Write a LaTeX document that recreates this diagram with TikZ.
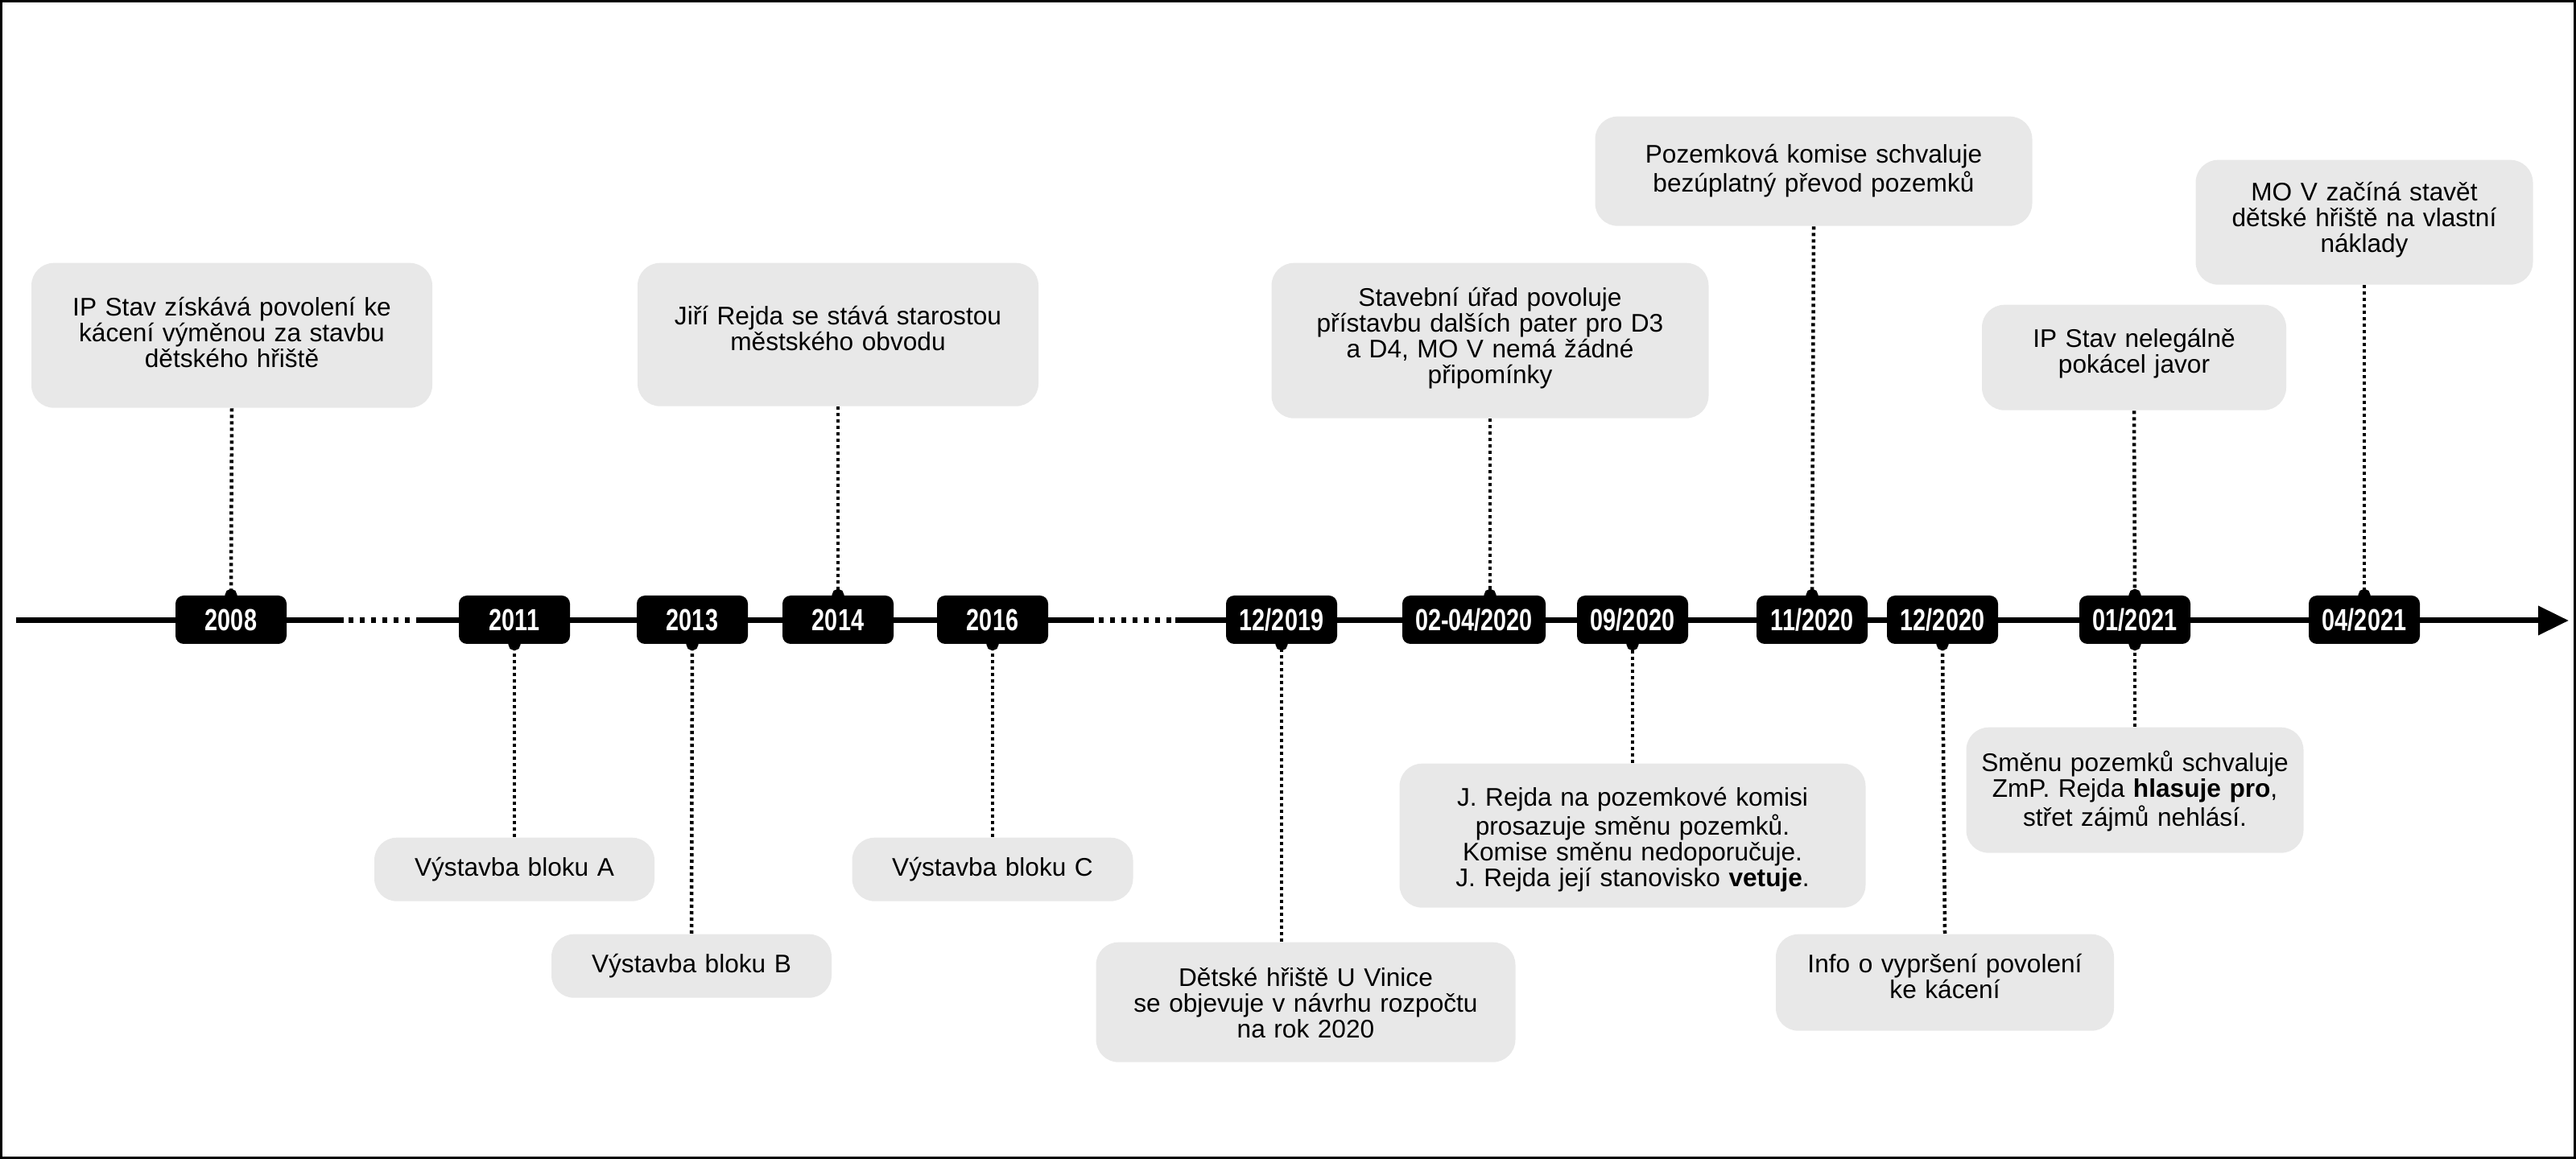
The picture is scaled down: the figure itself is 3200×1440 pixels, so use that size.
\documentclass[tikz,border=0pt]{standalone}
\usepackage{fontspec}
\setmainfont{Liberation Sans}
\newfontfamily\datefont[FakeStretch=0.76]{Liberation Sans Bold}
\usetikzlibrary{arrows.meta}
\definecolor{evgrey}{HTML}{E8E8E8}

\begin{document}
\begin{tikzpicture}[x=0.1mm, y=-0.1mm,
    event/.style={fill=evgrey, rounded corners=2.8mm, inner sep=0pt, anchor=north,
      align=center, font=\fontsize{9}{9.1}\selectfont},
    datebox/.style={fill=black, text=white, rounded corners=1mm, minimum width=13.8mm,
      minimum height=6mm, inner sep=0pt, font=\datefont\fontsize{10.8}{12}\selectfont},
    axis/.style={line width=0.7mm},
    gapline/.style={axis, dash pattern=on 0.6mm off 0.8mm, dash phase=0.8mm}]

      \useasboundingbox (0,0) rectangle (3200,1440);
      \draw[line width=0.3mm] (1.5,1.5) rectangle (3198.5,1438.5);

      % timeline
      \coordinate (tl0) at (20,771);
      \coordinate (g1a) at (427,771);
      \coordinate (g1b) at (518,771);
      \coordinate (g2a) at (1359,771);
      \coordinate (g2b) at (1460,771);
      \coordinate (tl1) at (3191,771);
      \draw[axis] (tl0) -- (g1a);
      \draw[gapline] (g1a) -- (g1b);
      \draw[axis] (g1b) -- (g2a);
      \draw[gapline] (g2a) -- (g2b);
      \draw[axis, -{Triangle[length=3.8mm, width=3.5mm]}] (g2b) -- (tl1);

      \begin{scope}[every node/.style={datebox}]
        \node (d2008) at (287,770)  {2008};
        \node (d2011) at (639,770)  {2011};
        \node (d2013) at (860,770)  {2013};
        \node (d2014) at (1041,770) {2014};
        \node (d2016) at (1233,770) {2016};
        \node (d1219) at (1592,770) {12/2019};
        \node[minimum width=17.8mm] (d0420) at (1831,770) {02-04/2020};
        \node (d0920) at (2028,770) {09/2020};
        \node (d1120) at (2251,770) {11/2020};
        \node (d1220) at (2413,770) {12/2020};
        \node (d0121) at (2652,770) {01/2021};
        \node (d0421) at (2937,770) {04/2021};
      \end{scope}

      \begin{scope}[every node/.style={event}]
        % above the line
        \node[text width=49.8mm, text height=6.6mm, text depth=11.4mm] (e2008) at (288,326)
          {IP Stav získává povolení ke\\kácení výměnou za stavbu\\dětského hřiště};
        \node[text width=49.8mm, text height=7.7mm, text depth=10.1mm] (e2014) at (1041,326)
          {Jiří Rejda se stává starostou\\městského obvodu};
        \node[text width=54.3mm, text height=5.4mm, text depth=13.9mm] (e0420) at (1851,326)
          {Stavební úřad povoluje\\přístavbu dalších pater pro D3\\a D4, MO V nemá žádné\\připomínky};
        \node[text width=54.3mm, text height=5.8mm, text depth=7.8mm] (e1120) at (2253,144)
          {Pozemková komise schvaluje\\bezúplatný převod pozemků};
        \node[text width=37.8mm, text height=5.3mm, text depth=7.8mm] (e0121a) at (2651,378)
          {IP Stav nelegálně\\pokácel javor};
        \node[text width=41.9mm, text height=5.1mm, text depth=10.4mm] (e0421) at (2937,198)
          {MO V začíná stavět\\dětské hřiště na vlastní\\náklady};
        % below the line
        \node[text width=34.8mm, text height=4.8mm, text depth=3.1mm] (e2011) at (639,1040)
          {Výstavba bloku A};
        \node[text width=34.8mm, text height=4.8mm, text depth=3.1mm] (e2013) at (859,1160)
          {Výstavba bloku B};
        \node[text width=34.9mm, text height=4.8mm, text depth=3.1mm] (e2016) at (1233,1040)
          {Výstavba bloku C};
        \node[text width=52.1mm, text height=5.5mm, text depth=9.4mm] (e1219) at (1622,1170)
          {Dětské hřiště U Vinice\\se objevuje v návrhu rozpočtu\\na rok 2020};
        \node[text width=57.9mm, text height=5.3mm, text depth=12.6mm] (e0920) at (2028,948)
          {J. Rejda na pozemkové komisi\\prosazuje směnu pozemků.\\Komise směnu nedoporučuje.\\J. Rejda její stanovisko \textbf{vetuje}.};
        \node[text width=42mm, text height=4.8mm, text depth=7.2mm] (e1220) at (2416,1160)
          {Info o vypršení povolení\\ke kácení};
        \node[text width=41.9mm, text height=5.5mm, text depth=10.1mm] (e0121b) at (2652,903)
          {Směnu pozemků schvaluje\\ZmP. Rejda \textbf{hlasuje pro},\\střet zájmů nehlásí.};
      \end{scope}

      \begin{scope}[every edge/.style={draw, line width=0.45mm, dash pattern=on 0.4mm off 0.4mm,
          -{Circle[length=1.5mm]}, shorten >=-0.75mm}]
        \path (e2008.south)  edge (d2008.north);
        \path (e2014.south)  edge (d2014.north);
        \path (e0420.south)  edge (e0420.south |- d0420.north);
        \path (e1120.south)  edge (d1120.north);
        \path (e0121a.south) edge (d0121.north);
        \path (e0421.south)  edge (d0421.north);
        \path (e2011.north)  edge (d2011.south);
        \path (e2013.north)  edge (d2013.south);
        \path (e2016.north)  edge (d2016.south);
        \path (d1219.south |- e1219.north) edge (d1219.south);
        \path (e0920.north)  edge (d0920.south);
        \path (e1220.north)  edge (d1220.south);
        \path (e0121b.north) edge (d0121.south);
      \end{scope}

    \end{tikzpicture}
\end{document}
